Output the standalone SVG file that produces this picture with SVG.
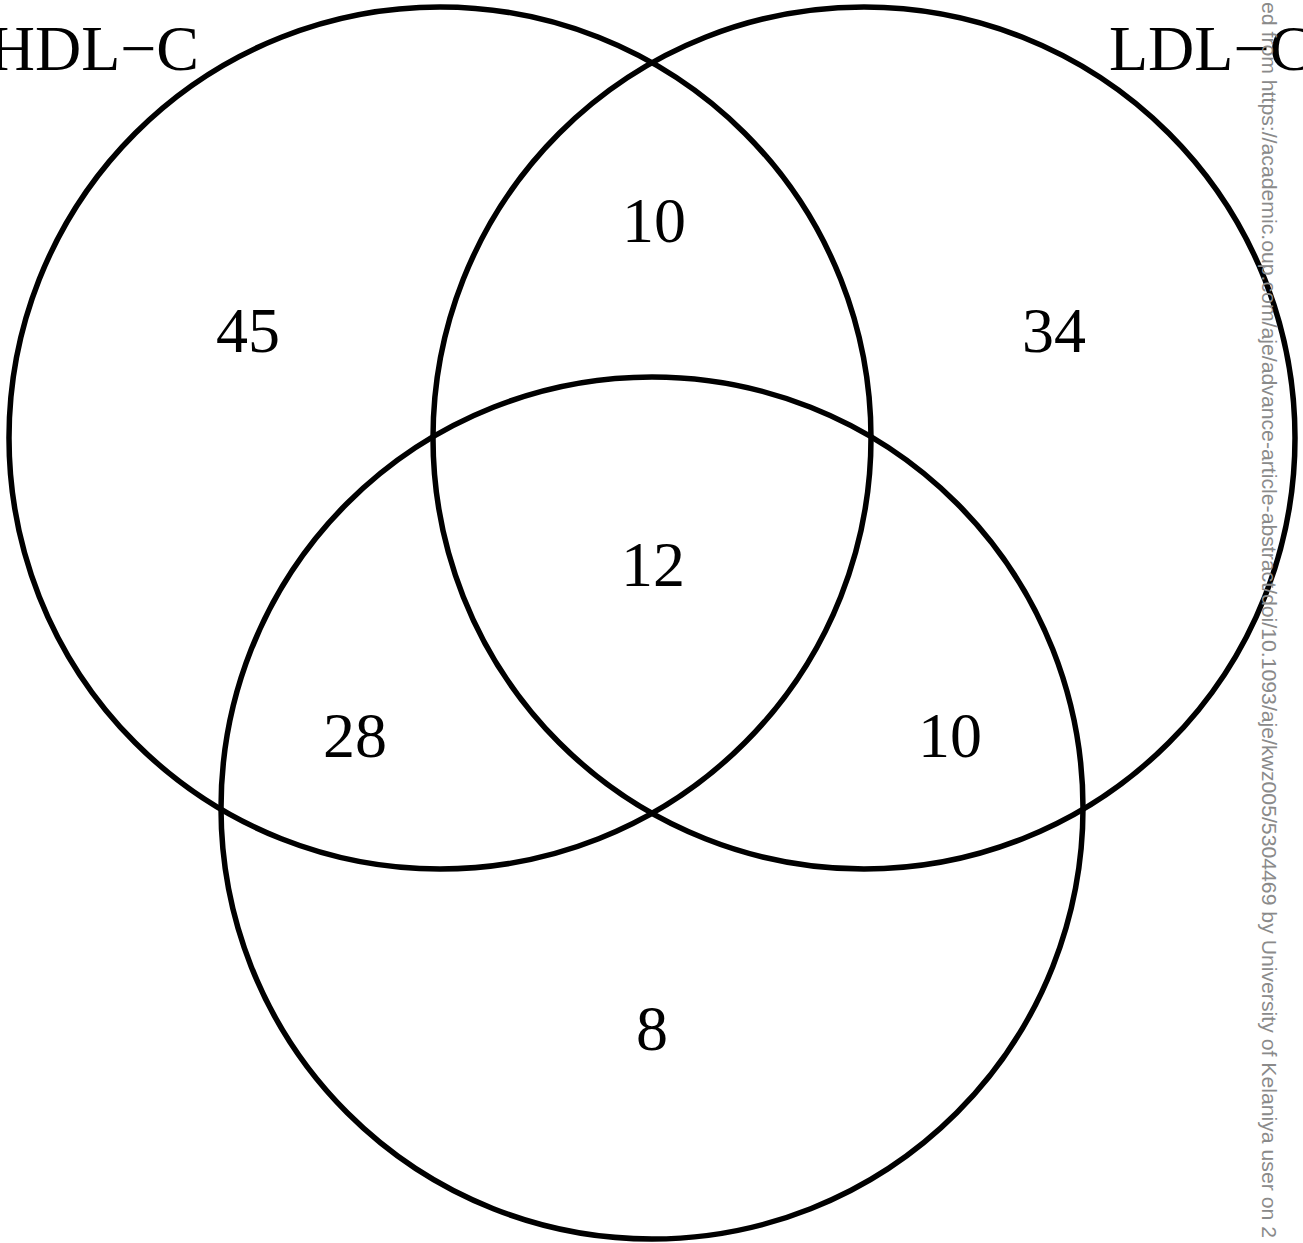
<svg xmlns="http://www.w3.org/2000/svg" width="1303" height="1243" viewBox="0 0 1303 1243">
<style>
.set{fill:none;stroke:#000;stroke-width:5.5}
.num{font-family:"Liberation Serif","Times New Roman",serif;font-size:64px;fill:#000;text-anchor:middle}
.lab{font-family:"Liberation Serif","Times New Roman",serif;font-size:64px;fill:#000}
.wm{font-family:"Liberation Sans",Arial,sans-serif;font-size:21px;fill:#8a8a8a}
</style>
<rect width="1303" height="1243" fill="#fff"/>
<g id="circles">
<circle id="hdl" class="set" cx="440" cy="438" r="431"/>
<circle id="ldl" class="set" cx="864" cy="438" r="431"/>
<circle id="third" class="set" cx="652" cy="808" r="431"/>
</g>
<g id="labels">
<text class="lab" x="199" y="70" text-anchor="end">HDL−C</text>
<text class="lab" x="1109" y="70">LDL−C</text>
</g>
<g id="counts">
<text class="num" x="248" y="352">45</text>
<text class="num" x="654" y="242">10</text>
<text class="num" x="1054" y="352">34</text>
<text class="num" x="653" y="586">12</text>
<text class="num" x="355" y="757">28</text>
<text class="num" x="950" y="757">10</text>
<text class="num" x="652" y="1050">8</text>
</g>
<text class="wm" transform="translate(1262,2) rotate(90)" x="0" y="0" textLength="1236" lengthAdjust="spacingAndGlyphs">ed from https://academic.oup.com/aje/advance-article-abstract/doi/10.1093/aje/kwz005/5304469 by University of Kelaniya user on 2</text>
</svg>
